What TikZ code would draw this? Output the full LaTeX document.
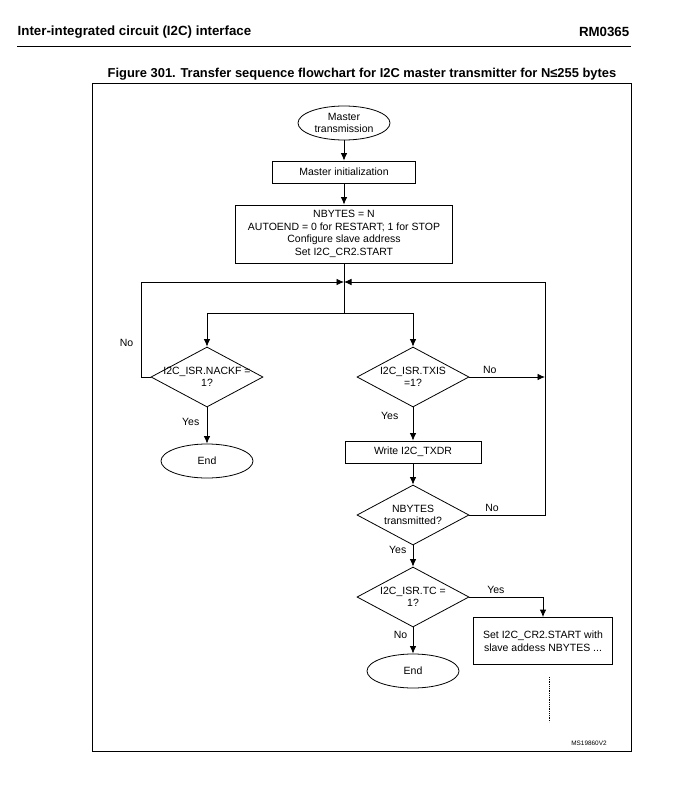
\documentclass[tikz,border=0pt]{standalone}
\usepackage{fontspec}
\setmainfont{Liberation Sans}
\usetikzlibrary{shapes.geometric, arrows, arrows.meta, positioning}
\tikzstyle{terminal} = [ellipse, minimum width=92pt, minimum height=34pt,
  inner sep=0pt, text centered, align=center, draw=black]
\tikzstyle{process} = [rectangle, minimum width=140pt, minimum height=22pt,
  text centered, align=center, draw=black]
\tikzstyle{decision} = [diamond, aspect=1.87, minimum width=112pt,
  minimum height=60pt, inner sep=-8pt, text centered, align=center, draw=black]
\tikzstyle{arrow} = [->, >={Latex[length=7.5pt,width=6.5pt]}]
\tikzstyle{heading} = [font=\fontsize{13.3}{15}\selectfont\bfseries]

\begin{document}
\begin{tikzpicture}[x=1pt, y=-1pt, node distance=62pt, line width=0.8pt,
  font=\fontsize{10.5}{12.5}\selectfont]
  \useasboundingbox (0,0) rectangle (690,800);

  %% Page header and figure frame
  \node (chapter) [heading, anchor=west] at (14,32) {Inter-integrated circuit (I2C) interface};
  \node (docref) [heading, anchor=east] at (633,32) {RM0365};
  \draw (17,46) -- (631,46);
  \node (caption) [font=\fontsize{12.9}{15}\selectfont\bfseries] at (362,74)
    {Figure 301. Transfer sequence flowchart for I2C master transmitter for N≤255 bytes};
  \draw (92,83) rectangle (631,751);

  %% Start block
  \node (start) [terminal] at (344,123) {Master\\transmission};
  \node (init) [process, below of=start, yshift=13pt, minimum width=143pt] {Master initialization};
  \node (setup) [process, below of=init, minimum width=217pt, minimum height=58pt]
    {NBYTES = N\\AUTOEND = 0 for RESTART; 1 for STOP\\Configure slave address\\Set I2C\_CR2.START};

  %% Loop junctions
  \coordinate [below of=setup, yshift=14pt] (merge);
  \coordinate [below of=setup, yshift=-17pt] (split);
  \coordinate [left of=merge, xshift=-141pt] (leftrail);
  \coordinate [right of=merge, xshift=139pt] (rightrail);

  \node (txis) [decision, below of=setup, xshift=69pt, yshift=-81pt] {I2C\_ISR.TXIS\\=1?};
  \node (nack) [decision, left of=txis, xshift=-144pt] {I2C\_ISR.NACKF =\\1?};
  \node (end1) [terminal, below of=nack, yshift=-22pt] {End};
  \node (txdr) [process, below of=txis, yshift=-13pt, minimum width=136pt] {Write I2C\_TXDR};
  \node (ntx) [decision, below of=txdr, yshift=-1pt] {NBYTES\\transmitted?};
  \node (tc) [decision, below of=ntx, yshift=-20pt] {I2C\_ISR.TC =\\1?};
  \node (end2) [terminal, below of=tc, yshift=-12pt] {End};
  \node (restart) [process, right of=tc, xshift=68pt, yshift=-44pt, minimum width=139pt,
    minimum height=47pt] {Set I2C\_CR2.START with\\slave addess NBYTES ...};
  \coordinate [below of=restart, xshift=6pt, yshift=26pt] (cont);
  \coordinate [below of=restart, xshift=6pt, yshift=-19pt] (contend);

  \node (figid) [font=\fontsize{6.4}{7}\selectfont] at (589,743) {MS19860V2};

  \draw [arrow] (start) -- (init);
  \draw [arrow] (init) -- (setup);
  \draw (setup) -- (split);
  \draw [arrow] (split) -| (nack);
  \draw [arrow] (split) -| (txis);

  %% NACKF loop back up the left side
  \draw [arrow] (nack.west) -| node[pos=0.68, left=4pt] {No} (leftrail) -- (merge);
  \draw [arrow] (nack) -- node[pos=0.4, left=4pt] {Yes} (end1);

  \draw [arrow] (txis.east) -- node[pos=0.27, above] {No} (txis.east -| rightrail);
  \draw [arrow] (txis) -- node[pos=0.27, left=11pt] {Yes} (txdr);
  \draw [arrow] (txdr) -- (ntx);

  %% NBYTES loop back up the right side
  \draw [arrow] (ntx.east) -| node[pos=0.15, above] {No} (rightrail) -- (merge);
  \draw [arrow] (ntx) -- node[pos=0.22, left=3pt] {Yes} (tc);

  \draw [arrow] (tc.east) -| node[pos=0.18, above] {Yes} (restart);
  \draw [arrow] (tc) -- node[pos=0.3, left=2pt] {No} (end2);
  \draw [densely dotted] (cont) -- (contend);

\end{tikzpicture}
\end{document}
